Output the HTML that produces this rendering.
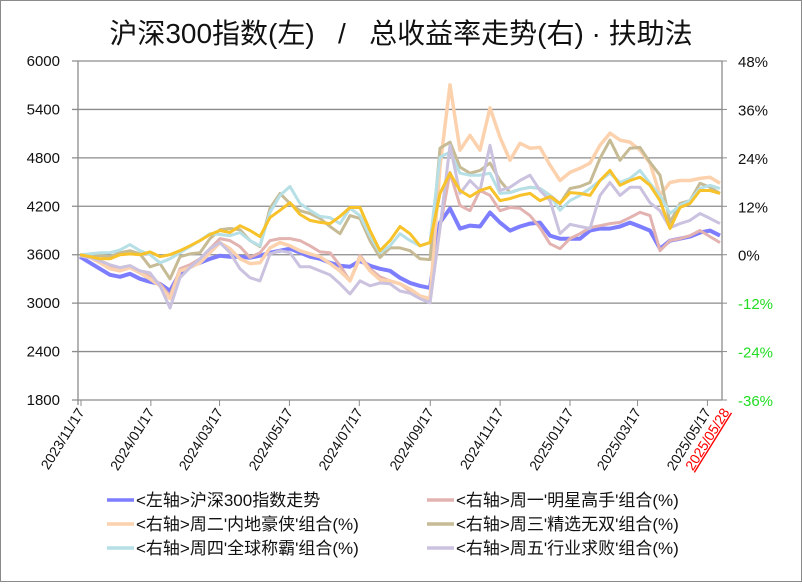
<!DOCTYPE html>
<html><head><meta charset="utf-8"><style>
body{margin:0;background:#fff;}
svg text{font-family:"Liberation Sans","Noto Sans CJK SC",sans-serif;}
</style></head><body>
<svg id="chart" width="802" height="582" viewBox="0 0 802 582" xmlns="http://www.w3.org/2000/svg">
<rect x="0.5" y="0.5" width="801" height="581" fill="#fff" stroke="#8a8a8a"/>
<text x="401" y="43" text-anchor="middle" font-size="28" fill="#111">沪深300指数(左)&#160;&#160;&#160;/&#160;&#160;&#160;总收益率走势(右) · 扶助法</text>
<g id="grid"></g><g id="axes"></g><g id="series"></g><g id="legend"></g>
</svg>
<script>
const xLabels=["2023/11/17","2024/01/17","2024/03/17","2024/05/17","2024/07/17","2024/09/17","2024/11/17","2025/01/17","2025/03/17","2025/05/17","2025/05/28"];
const xLabelDays=[0,61,121,182,243,305,366,427,486,547,558];
const leftTicks=[1800,2400,3000,3600,4200,4800,5400,6000];
const rightTicks=[-36,-24,-12,0,12,24,36,48];
const csi300=[3575,3500,3426,3351,3326,3363,3301,3264,3239,3152,3376,3463,3500,3550,3588,3575,3575,3563,3588,3625,3650,3675,3625,3575,3550,3500,3463,3451,3525,3463,3426,3401,3314,3251,3214,3189,3998,4173,3924,3961,3949,4123,3998,3899,3949,3986,3998,3837,3799,3799,3799,3899,3924,3924,3949,3998,3949,3899,3675,3774,3799,3824,3874,3899,3837];
const mon=[-0.2,-0.7,-1.7,-3.0,-3.5,-3.0,-4.0,-5.5,-7.2,-10.2,-3.5,-2.5,-1.0,1.5,4.0,3.5,2.0,-0.7,0.5,3.5,4.0,4.0,3.5,2.2,0.7,0.5,-2.7,-6.5,-0.2,-3.5,-5.5,-6.5,-7.2,-9.0,-10.7,-11.9,6.7,20.4,12.2,10.9,15.9,14.7,10.9,11.7,11.5,9.7,6.7,2.7,1.5,4.0,5.2,6.7,7.2,7.7,8.0,9.2,10.5,9.7,1.0,3.5,4.0,4.7,6.0,4.5,3.0];
const tue=[-0.2,-0.7,-2.0,-3.5,-4.0,-3.2,-4.5,-6.0,-7.7,-10.9,-4.0,-3.2,-2.0,0.5,3.0,1.5,-1.0,-2.2,-2.0,1.7,3.0,2.2,1.0,0.2,-0.5,-2.2,-4.0,-6.5,-0.7,-4.0,-6.2,-6.5,-7.2,-8.5,-10.2,-10.9,21.7,42.1,25.9,29.6,25.9,36.4,29.1,23.4,27.6,26.4,26.6,22.2,18.4,20.4,21.4,22.7,27.1,30.1,28.4,27.9,25.9,22.7,14.7,17.9,18.4,18.4,18.9,19.2,17.7];
const wed=[0,-0.5,-0.2,-0.5,0.5,1.0,0.2,-3.0,-2.2,-6.0,-0.5,0.2,0.5,4.0,6.2,6.5,6.2,3.5,2.0,11.5,15.2,12.7,10.9,10.2,9.0,7.0,5.2,9.7,9.0,3.5,-0.7,1.7,1.7,1.0,-1.0,-1.2,26.4,27.9,21.7,20.2,20.9,22.7,18.4,15.4,16.2,16.7,16.4,14.7,12.7,16.4,16.9,17.9,23.9,28.4,23.4,26.4,26.6,22.9,19.7,8.0,12.7,13.4,17.7,16.7,15.2];
const thu=[0,0.2,0.5,0.5,1.2,2.5,1.0,0,-2.0,-1.0,0.5,2.0,3.5,5.2,5.0,4.7,5.5,3.5,2.2,10.5,14.7,16.9,12.7,11.0,9.5,9.2,7.7,11.5,9.7,4.7,0.5,2.2,5.2,3.5,2.2,3.0,24.2,25.4,20.2,19.7,19.7,20.2,15.2,15.4,16.2,16.7,16.4,14.7,11.0,13.4,14.7,16.4,18.4,20.2,17.9,18.9,20.9,17.7,14.7,10.2,12.2,13.4,16.4,17.2,16.4];
const fri=[-0.2,-0.7,-1.5,-2.5,-3.2,-2.7,-4.0,-4.5,-7.7,-13.2,-5.7,-3.2,-1.0,1.5,3.0,0.5,-3.5,-5.7,-6.5,0.2,1.0,0.5,-3.0,-3.0,-4.0,-5.0,-7.2,-9.7,-6.5,-7.7,-7.0,-7.2,-9.0,-9.5,-10.9,-11.9,6.7,27.1,15.2,18.4,15.9,27.1,15.9,16.7,18.4,19.7,15.9,13.4,5.2,7.5,7.0,6.5,14.7,17.9,14.7,16.7,16.7,12.9,10.9,6.7,7.7,8.5,10.2,9.0,7.7];
const avg=[0,-0.5,-1.0,-1.0,0,0.2,0,0.7,-0.5,0,1.0,2.2,3.5,5.0,6.0,5.5,7.2,6.0,4.5,9.2,11.0,12.9,10.0,8.5,8.0,7.7,9.5,11.7,11.7,6.0,1.0,3.5,7.0,5.2,2.2,3.0,15.2,20.2,15.9,14.4,15.9,16.7,13.4,13.9,14.7,15.2,13.4,14.4,12.7,15.4,15.2,14.7,18.4,20.9,17.2,18.4,19.2,17.2,13.4,6.5,11.7,12.7,15.9,15.9,15.2];

const NS="http://www.w3.org/2000/svg";
const X0=80,X1=720,Y0=400,Y1=61,LEFT=78,RIGHT=722;
const xIdx=i=>X0+(X1-X0)*i/(csi300.length-1);
const xDay=d=>81+d*(720-81)/558;
const yL=v=>Y0-(v-1800)/(6000-1800)*(Y0-Y1);
const yR=v=>Y0-(v+36)/(48+36)*(Y0-Y1);
function mk(tag,attrs,parent){const e=document.createElementNS(NS,tag);for(const k in attrs)e.setAttribute(k,attrs[k]);parent.appendChild(e);return e;}
const grid=document.getElementById('grid'),axes=document.getElementById('axes'),ser=document.getElementById('series'),leg=document.getElementById('legend');
leftTicks.forEach(t=>{const y=yL(t);
 if(t!==1800){const g=mk('line',{x1:LEFT-6,x2:RIGHT,y1:y,y2:y,stroke:'#8c8c8c','stroke-width':1.3},grid);
 
 }
 const tx=mk('text',{x:60,y:y+5,'text-anchor':'end','font-size':15,fill:'#111'},axes);tx.textContent=t;
 
 });
rightTicks.forEach(t=>{const y=yR(t);
 mk('line',{x1:RIGHT,x2:RIGHT+5,y1:y,y2:y,stroke:'#8c8c8c'},axes);
 const tx=mk('text',{x:738,y:y+6,'font-size':15,fill:t<0?'#22dd22':'#111'},axes);tx.textContent=t+'%';
 
 });
let a=mk('line',{x1:LEFT,x2:LEFT,y1:Y1,y2:Y0+5,stroke:'#8c8c8c','stroke-width':1.3},axes);


a=mk('line',{x1:RIGHT,x2:RIGHT,y1:Y1,y2:Y0,stroke:'#8c8c8c','stroke-width':1.3},axes);


a=mk('line',{x1:LEFT-6,x2:RIGHT,y1:Y0,y2:Y0,stroke:'#8c8c8c','stroke-width':1.3},axes);


xLabels.forEach((l,i)=>{const x=xDay(xLabelDays[i]);const last=i===xLabels.length-1;
 if(!last)mk('line',{x1:x,x2:x,y1:Y0,y2:Y0+6,stroke:'#8c8c8c'},axes);
 const ax=last?x+10:x+4,ay=Y0+12;
 const tx=mk('text',{x:ax,y:ay,'text-anchor':'end','font-size':14,fill:last?'#ff0000':'#111',transform:`rotate(-58 ${ax} ${ay})`,'text-decoration':last?'underline':'none'},axes);
 tx.textContent=l;
 
 });
function line(data,yf,color,w,name){const d=data.map((v,i)=>(i?'L':'M')+xIdx(i).toFixed(1)+','+yf(v).toFixed(1)).join('');
 const p=mk('path',{d:d,fill:'none',stroke:color,'stroke-width':w,'stroke-linejoin':'round'},ser);
 
 }
line(csi300,yL,'#7d7dff',4,'series-csi300');
line(mon,yR,'#e2b3b1',3,'series-monday');
line(tue,yR,'#fcd2ae',3.5,'series-tuesday');
line(wed,yR,'#c6bb95',3,'series-wednesday');
line(thu,yR,'#b6dfe6',3,'series-thursday');
line(fri,yR,'#cbc2df',3,'series-friday');
line(avg,yR,'#f7c22a',3,'series-average');
const legItems=[["<左轴>沪深300指数走势",'#7d7dff',107,500],["<右轴>周一'明星高手'组合(%)",'#e2b3b1',427,500],["<右轴>周二'内地豪侠'组合(%)",'#fcd2ae',107,524],["<右轴>周三'精选无双'组合(%)",'#c6bb95',427,524],["<右轴>周四'全球称霸'组合(%)",'#b6dfe6',107,548],["<右轴>周五'行业求败'组合(%)",'#cbc2df',427,548]];
legItems.forEach(([t,c,x,y])=>{const g=mk('g',{},leg);
 
 
 mk('line',{x1:x,x2:x+27,y1:y,y2:y,stroke:c,'stroke-width':3.5},g);
 const tx=mk('text',{x:x+29,y:y+6,'font-size':17,fill:'#111'},g);tx.textContent=t;});
</script>
</body></html>
